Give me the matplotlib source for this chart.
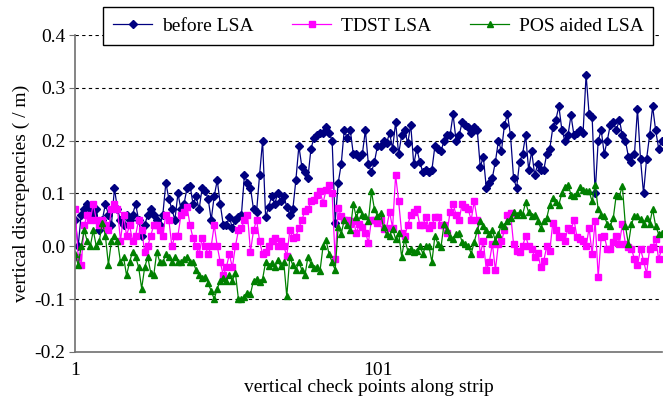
import numpy as np
import matplotlib
matplotlib.use("Agg")
import matplotlib.pyplot as plt

plt.rcParams['font.family'] = ['Liberation Serif', 'DejaVu Serif']

# values, one per check point (1..195)
before_lsa = [
    0.05, 0.00, 0.06, 0.07, 0.08, 0.07, 0.06, 0.07, 0.03, 0.05,
    0.08, 0.06, 0.04, 0.11, 0.07, 0.05, 0.04, 0.06, 0.05, 0.06,
    0.08, 0.05, 0.02, 0.04, 0.06, 0.07, 0.06, 0.05, 0.04, 0.06,
    0.12, 0.09, 0.07, 0.05, 0.10,
    0.07, 0.08, 0.11, 0.115, 0.08, 0.095, 0.07, 0.11, 0.105, 0.09,
    0.05, 0.095, 0.125, 0.08, 0.04, 0.04, 0.055, 0.035, 0.05, 0.055,
    0.06, 0.135, 0.12, 0.11, 0.07, 0.065, 0.135, 0.2, 0.055, 0.075,
    0.095, 0.08, 0.1, 0.085, 0.095,
    0.075, 0.06, 0.07, 0.125, 0.19, 0.15, 0.14, 0.13, 0.185, 0.205,
    0.21, 0.215, 0.215, 0.225, 0.215, 0.2, 0.045,
    0.12, 0.155, 0.22, 0.205, 0.22, 0.175, 0.175, 0.17, 0.175, 0.22,
    0.155, 0.14, 0.16, 0.19, 0.19,
    0.2, 0.195, 0.215, 0.185, 0.235, 0.175, 0.21, 0.22, 0.195, 0.23,
    0.155, 0.185, 0.16, 0.14, 0.145, 0.14, 0.145, 0.19, 0.185, 0.18,
    0.2, 0.21, 0.21, 0.25, 0.2, 0.21, 0.235, 0.23, 0.225, 0.215,
    0.225, 0.22, 0.15, 0.17, 0.11, 0.12,
    0.13, 0.16, 0.2, 0.18, 0.23, 0.25, 0.21, 0.13, 0.11, 0.16,
    0.175, 0.21, 0.145, 0.18, 0.135, 0.155, 0.145, 0.145, 0.175, 0.185,
    0.225, 0.24, 0.265, 0.22, 0.2, 0.21, 0.248, 0.21, 0.215, 0.22,
    0.215, 0.325,
    0.25, 0.245, 0.1, 0.2, 0.22, 0.175, 0.2, 0.23, 0.235, 0.22,
    0.24, 0.21, 0.2, 0.17, 0.16, 0.175, 0.26, 0.165, 0.1, 0.165,
    0.21, 0.265, 0.22, 0.185, 0.2,
]

tdst_lsa = [
    0.07, -0.02, -0.035, 0.04, 0.06, 0.05, 0.08, 0.05, 0.04, 0.05,
    0.04, 0.03, 0.07, 0.08, 0.07, 0.01, 0.06, 0.02, 0.04, 0.01,
    0.02, 0.05, 0.03, -0.01, 0.00, 0.02, 0.04, 0.04, 0.03, 0.02,
    0.06, 0.05, 0.00, 0.02, 0.02,
    0.06, 0.065, 0.075, 0.04, 0.015, 0.0, -0.015, 0.015, 0.0, -0.015,
    0.0, 0.04, 0.0, -0.03, -0.055, -0.04, -0.015, -0.04, 0.0, 0.03,
    0.035, 0.05, 0.06, -0.01, 0.03, 0.05, 0.01, -0.015, -0.01, 0.0,
    0.01, 0.015, 0.0, 0.01, 0.0,
    -0.018, 0.03, 0.015, 0.018, 0.035, 0.05, 0.067, 0.07, 0.085, 0.088,
    0.098, 0.104, 0.082, 0.107, 0.117, 0.1, -0.025,
    0.073, 0.057, 0.05, 0.05, 0.042, 0.048, 0.026, 0.042, 0.036, 0.026,
    0.007, 0.05, 0.05, 0.045, 0.05, 0.032,
    0.035, 0.065, 0.035, 0.135, 0.085, 0.025, 0.02, 0.04, 0.06, 0.065,
    0.07, 0.04, 0.04, 0.055, 0.035, 0.04, 0.055, 0.055, 0.04, 0.04,
    0.025, 0.065, 0.08, 0.06, 0.05, 0.08, 0.075, 0.07, 0.05, 0.085,
    0.05, -0.015, 0.01, -0.045, -0.03,
    0.005, -0.045, 0.005, 0.01, 0.03, 0.06, 0.063, 0.005, -0.008, -0.01,
    0.0, 0.02, 0.0, -0.005, -0.02, -0.012, -0.04, -0.027, 0.0, -0.008,
    0.045, 0.03, 0.017, 0.02, 0.01, 0.035, 0.03, 0.05, 0.017, 0.014,
    0.01, 0.0,
    0.035, -0.015, 0.048, -0.058, 0.017, 0.02, -0.005, -0.005, 0.008, 0.02,
    0.005, 0.042, 0.005, -0.002, -0.005, -0.024, -0.036, -0.005, -0.027, -0.052,
    -0.005, -0.002, 0.014, -0.024, -0.005,
]

pos_aided_lsa = [
    -0.015, -0.035, 0.0, 0.03, 0.01, 0.0, 0.03, 0.0, 0.01, 0.045,
    0.02, -0.035, 0.01, 0.02, 0.01, -0.03, -0.02, -0.055, -0.03, -0.01,
    -0.02, -0.04, -0.08, -0.04, -0.02, -0.05, -0.055, -0.01, -0.03, -0.03,
    -0.015, -0.02, -0.03, -0.02, -0.03,
    -0.03, -0.025, -0.02, -0.03, -0.03, -0.045, -0.055, -0.06, -0.058, -0.07,
    -0.085, -0.1, -0.08, -0.065, -0.06, -0.065, -0.055, -0.065, -0.05, -0.1,
    -0.1, -0.097, -0.088, -0.09, -0.065, -0.062, -0.068, -0.062, -0.03, -0.038,
    -0.032, -0.04, -0.026, -0.038, -0.03,
    -0.095, -0.02, -0.036, -0.045, -0.03, -0.045, -0.055, -0.02, -0.033, -0.042,
    -0.04, -0.046, 0.0, 0.011, -0.015, -0.03, -0.045,
    0.036, 0.023, 0.05, 0.04, 0.03, 0.08, 0.055, 0.07, 0.06, 0.058,
    0.048, 0.104, 0.07, 0.057, 0.063, 0.036, 0.023,
    0.02, 0.033, 0.014, 0.026, -0.02, 0.014, -0.008, -0.005, -0.011, -0.008,
    0.001, -0.014, 0.001, 0.001, -0.03, 0.02, 0.004, -0.002, 0.042, 0.03,
    0.017, 0.014, 0.023, 0.026, 0.008, 0.004, 0.001, -0.014, 0.008, 0.03,
    0.048, 0.039, 0.03, 0.023, 0.03,
    0.01, 0.023, 0.042, 0.039, 0.048, 0.054, 0.064, 0.06, 0.064, 0.06,
    0.083, 0.064, 0.057, 0.06, 0.048, 0.035, 0.048, 0.054, 0.079, 0.092,
    0.083, 0.079, 0.101, 0.113, 0.117, 0.098, 0.095, 0.101, 0.113, 0.107,
    0.104,
    0.104, 0.085, 0.117, 0.07, 0.06, 0.057, 0.042, 0.039, 0.054, 0.098,
    0.095, 0.114, 0.039, 0.004, 0.042, 0.057, 0.057, 0.051, 0.042, 0.054,
    0.042, 0.07, 0.039, 0.023, 0.026,
]

series_names = ["before LSA", "TDST LSA", "POS aided LSA"]
x_ticks = [1, 101]

fig = plt.figure(figsize=(6.65, 4.13), dpi=100)
ax = fig.add_axes([0.113, 0.148, 0.882, 0.767])

ax.plot(np.arange(1, len(before_lsa) + 1), before_lsa, color="#000080", lw=0.9,
        marker="D", ms=4.5, label=series_names[0])
ax.plot(np.arange(1, len(tdst_lsa) + 1), tdst_lsa, color="#ff00ff", lw=0.9,
        marker="s", ms=4.5, label=series_names[1])
ax.plot(np.arange(1, len(pos_aided_lsa) + 1), pos_aided_lsa, color="#008000", lw=0.9,
        marker="^", ms=5, label=series_names[2])

ax.set_xlim(1, len(before_lsa))
ax.set_ylim(-0.2, 0.4)
ax.set_yticks(np.arange(-0.2, 0.41, 0.1))
ax.set_yticklabels(["-0.2", "-0.1", "0.0", "0.1", "0.2", "0.3", "0.4"])
ax.set_xticks(x_ticks)
ax.set_xticklabels([str(t) for t in x_ticks])

for y in np.arange(-0.1, 0.41, 0.1):
    ax.axhline(y, color="black", lw=0.8, ls=(0, (3, 3)), zorder=0)

for s in ["top", "right"]:
    ax.spines[s].set_visible(False)
for s in ["left", "bottom"]:
    ax.spines[s].set_color("#707070")
    ax.spines[s].set_linewidth(1.2)

ax.tick_params(axis="y", direction="out", length=4, color="#707070", labelsize=14, pad=3)
ax.tick_params(axis="x", length=0, labelsize=14, pad=7)

ax.set_xlabel("vertical check points along strip", fontsize=14, labelpad=0)
ax.set_ylabel("vertical discrepencies ( / m)", fontsize=14, labelpad=3)

leg = fig.legend(loc="center", bbox_to_anchor=(0.569, 0.937), ncol=3, fontsize=14,
                 frameon=True, fancybox=False, edgecolor="black", framealpha=1,
                 handlelength=2.0, columnspacing=2.0, borderpad=0.5, handletextpad=0.5)
leg.get_frame().set_linewidth(1.0)

fig.savefig("out.png", dpi=100)
